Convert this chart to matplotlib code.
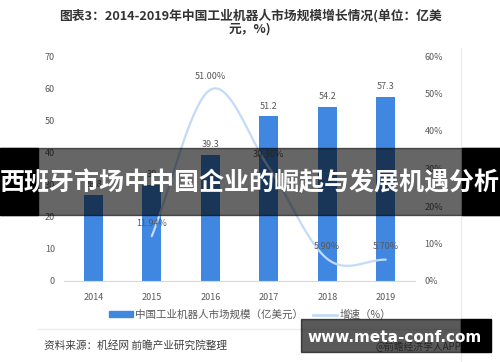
import numpy as np
import matplotlib
matplotlib.use("Agg")
import matplotlib.pyplot as plt
from matplotlib.patches import Rectangle
from matplotlib.lines import Line2D

plt.rcParams['font.family'] = ['Noto Sans CJK SC', 'DejaVu Sans']

years = ['2014', '2015', '2016', '2017', '2018', '2019']
market = [26.8, 30, 39.3, 51.2, 54.2, 57.3]
market_labels = ['26.8', '30', '39.3', '51.2', '54.2', '57.3']
growth_years = ['2015', '2016', '2017', '2018', '2019']
growth = [11.94, 51.00, 30.30, 5.90, 5.70]
growth_labels = ['11.94%', '51.00%', '30.30%', '5.90%', '5.70%']
left_ticks = [0, 10, 20, 30, 40, 50, 60, 70]
right_ticks = [0, 10, 20, 30, 40, 50, 60]

title_text = '图表3：2014-2019年中国工业机器人市场规模增长情况(单位：亿美\n元，%)'
bar_name = '中国工业机器人市场规模（亿美元）'
line_name = '增速（%）'
source_text = '资料来源：机经网 前瞻产业研究院整理'
banner_text = '西班牙市场中中国企业的崛起与发展机遇分析'
wm_text = 'www.meta-conf.com'
app_text = '@前瞻经济学人APP'

W, H = 500, 362
fig = plt.figure(figsize=(W / 100, H / 100), dpi=100)
fig.patch.set_facecolor('white')

def fx(px):
    return px / W

def fy(py):
    return 1 - py / H

BAR_C = '#3f87e0'
LINE_C = '#c2dbf7'
TXT_C = '#595959'

ax = fig.add_axes([fx(64), fy(281), fx(415) - fx(64), fy(56) - fy(281)])
ax2 = ax.twinx()
x = np.arange(len(years))
bars = ax.bar(x, market, width=0.32, color=BAR_C, zorder=2)
ax.set_xlim(-0.5, len(years) - 0.5)
ax.set_ylim(0, 70)
ax.set_yticks(left_ticks)
ax.set_xticks(x)
ax.set_xticklabels(years)
for a in (ax, ax2):
    for s in a.spines.values():
        s.set_visible(False)
    a.tick_params(length=0, labelsize=6.5, labelcolor=TXT_C)
ax.spines['bottom'].set_visible(True)
ax.spines['bottom'].set_color('#d9d9d9')
ax.tick_params(axis='x', pad=9)
ax.tick_params(axis='y', pad=6.5)
for xi, v, lab in zip(x, market, market_labels):
    ax.annotate(lab, (xi, v), xytext=(0, 4), textcoords='offset points',
                ha='center', va='bottom', fontsize=6.5, color=TXT_C)

# growth line, smoothed (Catmull-Rom through the data points)
gx = np.array([years.index(y) for y in growth_years], dtype=float)
gy = np.array(growth) / 100.0
P = np.column_stack([gx, gy])
Pext = np.vstack([P[0] - (P[1] - P[0]), P, P[-1] + (P[-1] - P[-2])])
pts = []
for i in range(1, len(Pext) - 2):
    p0, p1, p2, p3 = Pext[i - 1], Pext[i], Pext[i + 1], Pext[i + 2]
    t = np.linspace(0, 1, 30)[:, None]
    seg = 0.5 * ((2 * p1) + (-p0 + p2) * t + (2 * p0 - 5 * p1 + 4 * p2 - p3) * t ** 2
                 + (-p0 + 3 * p1 - 3 * p2 + p3) * t ** 3)
    pts.append(seg)
curve = np.vstack(pts)
ax2.plot(curve[:, 0], curve[:, 1], color=LINE_C, lw=1.6, zorder=3, solid_capstyle='round')
ax2.set_ylim(0, 0.6)
ax2.set_yticks([t / 100 for t in right_ticks])
ax2.set_yticklabels([f'{t}%' for t in right_ticks])
ax2.tick_params(axis='y', pad=7)
for xi, v, lab in zip(gx, gy, growth_labels):
    ax2.annotate(lab, (xi, v), xytext=(0, 6), textcoords='offset points',
                 ha='center', va='bottom', fontsize=6.5, color=TXT_C)

# legend
handles = [Rectangle((0, 0), 1, 1, color=BAR_C), Line2D([0], [0], color=LINE_C, lw=2)]
fig.legend(handles, [bar_name, line_name], loc='center', ncol=2,
           bbox_to_anchor=(fx(250), fy(315)), frameon=False, fontsize=7.6,
           handlelength=2.3, handleheight=0.5, columnspacing=0.9,
           labelcolor=TXT_C, handletextpad=0.2)

# title
fig.text(0.5, fy(22), title_text, ha='center', va='center', fontsize=9.2,
         fontweight='bold', color='#333333', linespacing=1.0)

# frame lines and source
fig.add_artist(Line2D([fx(38), fx(461)], [fy(329), fy(329)], color='#e6edf5', lw=1))
fig.add_artist(Line2D([fx(461), fx(461)], [fy(48), fy(362)], color='#e6edf5', lw=1))
fig.text(fx(44), fy(345), source_text, ha='left', va='center', fontsize=7.7, color='#404040')
fig.text(fx(461), fy(347), app_text, ha='right', va='center', fontsize=7, color='#666666')

# overlay banner
fig.add_artist(Rectangle((0, fy(215)), 1, fy(148) - fy(215), transform=fig.transFigure,
                         color='black', alpha=0.6, zorder=10))
fig.add_artist(Rectangle((0, fy(215)), fx(38), fy(148) - fy(215), transform=fig.transFigure,
                         color='black', zorder=10))
fig.add_artist(Rectangle((fx(462), fy(215)), 1 - fx(462), fy(148) - fy(215),
                         transform=fig.transFigure, color='black', zorder=10))
fig.text(0.5, fy(183), banner_text, ha='center', va='center', fontsize=18,
         fontweight='bold', color='white', zorder=11)

# watermark box
fig.add_artist(Rectangle((fx(301), fy(352)), fx(461) - fx(301), fy(319) - fy(352),
                         transform=fig.transFigure, color='black', alpha=0.65, zorder=10))
fig.add_artist(Rectangle((fx(461), fy(352)), fx(491) - fx(461), fy(319) - fy(352),
                         transform=fig.transFigure, color='black', zorder=10))
fig.text(fx(395), fy(337), wm_text, ha='center', va='center', fontsize=11,
         fontweight='bold', color='white', zorder=11, family='DejaVu Sans')

fig.savefig('out.png', dpi=100)
